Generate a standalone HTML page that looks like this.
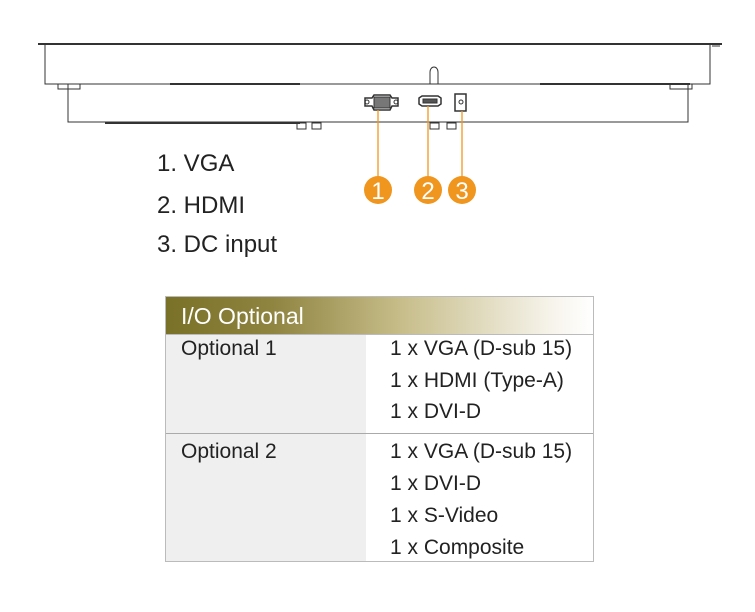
<!DOCTYPE html>
<html><head><style>
body{margin:0;width:755px;height:612px;background:#fff;font-family:"Liberation Sans",sans-serif;position:relative;overflow:hidden}
.t{position:absolute;font-size:24px;color:#222}
.c{position:absolute;font-size:21px;color:#222}
</style></head><body>
<svg width="755" height="300" style="position:absolute;left:0;top:0" fill="none" stroke="#333" stroke-width="1">
<line x1="38" y1="44" x2="722" y2="44" stroke-width="2"/>
<line x1="712" y1="46" x2="720" y2="46"/>
<path d="M45 44 V84 H710 V44"/>
<path d="M68 84 V122 H688 V84"/>
<rect x="58" y="84" width="22" height="5"/><rect x="670" y="84" width="22" height="5"/>
<line x1="170" y1="84" x2="300" y2="84" stroke-width="2"/><line x1="540" y1="84" x2="690" y2="84" stroke-width="2"/>
<line x1="105" y1="123" x2="300" y2="123" stroke-width="2"/>
<path d="M430 84 V72 A4 5 0 0 1 438 72 V84"/>
<rect x="297" y="123" width="9" height="6"/><rect x="312" y="123" width="9" height="6"/>
<rect x="430" y="123" width="9" height="6"/><rect x="447" y="123" width="9" height="6"/>
<path d="M365 98 H372 L374 95 H390 L392 98 H398 V106 H392 L390 110 H374 L372 106 H365 Z" stroke-width="1.5"/>
<rect x="374" y="97" width="16" height="11" fill="#777"/>
<circle cx="367" cy="102" r="2"/><circle cx="396" cy="102" r="2"/>
<path d="M419 98 L422 96 H438 L441 98 V104 L438 106 H422 L419 104 Z" stroke-width="1.5"/>
<rect x="423" y="99" width="14" height="4" fill="#555"/>
<rect x="455" y="94" width="11" height="17" stroke-width="1.5"/>
<circle cx="461" cy="102" r="2"/>
<g stroke="#f0961e" stroke-width="1.3"><line x1="378" y1="110" x2="378" y2="178"/><line x1="428" y1="106" x2="428" y2="178"/><line x1="462" y1="111" x2="462" y2="178"/></g>
<g fill="#f0961e" stroke="none"><circle cx="378" cy="190" r="14"/><circle cx="428" cy="190" r="14"/><circle cx="462" cy="190" r="14"/></g>
<g fill="#fff" stroke="none" font-family="Liberation Sans" font-size="24" text-anchor="middle"><text x="378" y="199">1</text><text x="428" y="199">2</text><text x="462" y="199">3</text></g>
</svg>
<div class="t" style="left:157px;top:150px">1. VGA</div>
<div class="t" style="left:157px;top:192px">2. HDMI</div>
<div class="t" style="left:157px;top:231px">3. DC input</div>
<div style="position:absolute;left:165px;top:296px;width:429px;height:266px;border:1px solid #bbb;box-sizing:border-box;background:linear-gradient(to right,#efefef 0,#efefef 200px,#fff 200px)">
<div style="height:37px;background:linear-gradient(to right,#7a7128 0%,#8f8440 25%,#c7bd8a 55%,#f6f3ea 90%,#fff 100%);border-bottom:1px solid #bbb;color:#fff;font-size:23px;line-height:38px;padding-left:15px">I/O Optional</div>
<div style="position:absolute;left:0;top:136px;width:100%;border-top:1px solid #aaa"></div>
</div>
<div class="c" style="left:181px;top:337px">Optional 1</div>
<div class="c" style="left:181px;top:440px">Optional 2</div>
<div class="c" style="left:390px;top:337px">1 x VGA (D-sub 15)</div>
<div class="c" style="left:390px;top:369px">1 x HDMI (Type-A)</div>
<div class="c" style="left:390px;top:400px">1 x DVI-D</div>
<div class="c" style="left:390px;top:440px">1 x VGA (D-sub 15)</div>
<div class="c" style="left:390px;top:472px">1 x DVI-D</div>
<div class="c" style="left:390px;top:504px">1 x S-Video</div>
<div class="c" style="left:390px;top:536px">1 x Composite</div>
</body></html>
